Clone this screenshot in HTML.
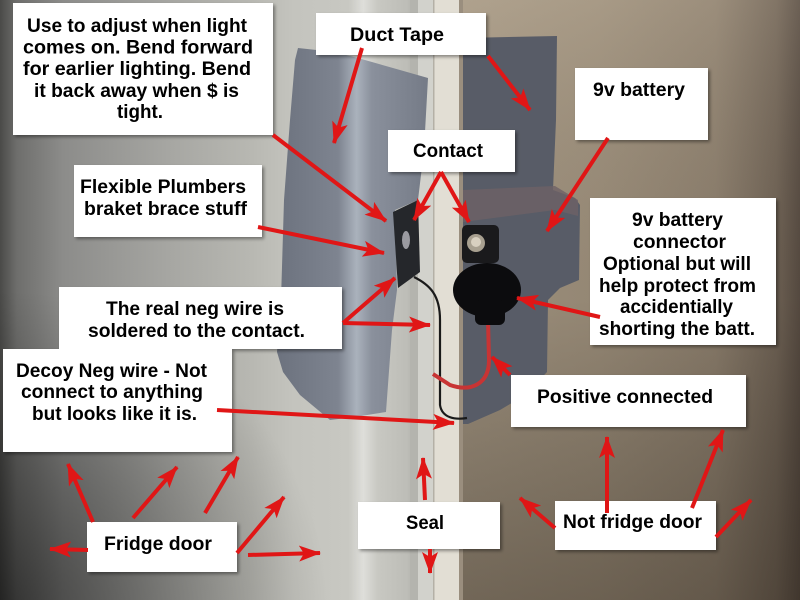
<!DOCTYPE html>
<html><head><meta charset="utf-8"><style>
html,body{margin:0;padding:0;width:800px;height:600px;overflow:hidden;background:#888}
svg{display:block}
text{font-family:"Liberation Sans",Arial,sans-serif;font-weight:bold;font-size:19px;fill:#000}
</style></head><body>
<svg width="800" height="600" viewBox="0 0 800 600" xmlns="http://www.w3.org/2000/svg">
<defs>
<linearGradient id="lg" gradientUnits="userSpaceOnUse" x1="0" y1="0" x2="420" y2="0">
<stop offset="0" stop-color="#4a4a48"/><stop offset="0.04" stop-color="#6e6e6c"/>
<stop offset="0.15" stop-color="#8c8c8a"/><stop offset="0.4" stop-color="#a6a6a2"/>
<stop offset="0.6" stop-color="#b8b8b2"/><stop offset="0.7" stop-color="#c4c4be"/>
<stop offset="0.83" stop-color="#c8c8c2"/><stop offset="0.865" stop-color="#dededa"/>
<stop offset="0.9" stop-color="#c8c8c2"/><stop offset="0.97" stop-color="#bdbdb7"/>
<stop offset="1" stop-color="#a9a9a4"/></linearGradient>
<radialGradient id="bl" gradientUnits="userSpaceOnUse" cx="0" cy="620" r="330">
<stop offset="0" stop-color="#000" stop-opacity="0.55"/><stop offset="1" stop-color="#000" stop-opacity="0"/></radialGradient>
<linearGradient id="rg" gradientUnits="userSpaceOnUse" x1="462" y1="0" x2="800" y2="0">
<stop offset="0" stop-color="#a49682"/><stop offset="0.4" stop-color="#9c8e7a"/>
<stop offset="0.75" stop-color="#8e806e"/><stop offset="0.93" stop-color="#716456"/>
<stop offset="1" stop-color="#584c42"/></linearGradient>
<linearGradient id="rv" gradientUnits="userSpaceOnUse" x1="0" y1="0" x2="0" y2="600">
<stop offset="0" stop-color="#fff4e0" stop-opacity="0.12"/><stop offset="0.5" stop-color="#000" stop-opacity="0.05"/>
<stop offset="1" stop-color="#140e08" stop-opacity="0.35"/></linearGradient>
<linearGradient id="tl" gradientUnits="userSpaceOnUse" x1="277" y1="0" x2="430" y2="0">
<stop offset="0" stop-color="#6c727e"/><stop offset="0.4" stop-color="#7e8490"/>
<stop offset="0.52" stop-color="#aab2bc"/><stop offset="0.62" stop-color="#8a909c"/>
<stop offset="1" stop-color="#747a86"/></linearGradient>
<filter id="sh" x="-10%" y="-10%" width="130%" height="140%"><feDropShadow dx="2" dy="2" stdDeviation="1.5" flood-color="#000" flood-opacity="0.4"/></filter>
<marker id="ah" markerWidth="22" markerHeight="16" refX="21" refY="8" orient="auto" markerUnits="userSpaceOnUse">
<path d="M0,0 L22,8 L0,16 L5,8 z" fill="#e01616"/></marker>
</defs>

<!-- photo background -->
<rect x="0" y="0" width="420" height="600" fill="url(#lg)"/>
<rect x="0" y="0" width="420" height="600" fill="url(#bl)"/>
<rect x="462" y="0" width="338" height="600" fill="url(#rg)"/>
<rect x="462" y="0" width="338" height="600" fill="url(#rv)"/>
<!-- seal -->
<rect x="410" y="0" width="10" height="600" fill="#b4b4ae"/>
<rect x="418" y="0" width="16" height="600" fill="#d2d2cc"/>
<rect x="433" y="0" width="29" height="600" fill="#e2ded4"/>
<rect x="433" y="0" width="1.5" height="600" fill="#b4b0a6"/>
<rect x="459" y="0" width="4" height="600" fill="#9a8e7e"/>

<!-- left duct tape -->
<polygon points="298,48 335,52 365,60 400,70 428,78 424,150 418,200 395,210 397,290 392,330 386,412 355,417 330,420 300,395 283,372 277,352 281,300 284,200 290,120 295,60" fill="url(#tl)"/>
<!-- right duct tape -->
<polygon points="463,38 557,36 556,120 553,190 575,198 580,205 579,280 560,288 548,300 547,372 525,395 500,410 468,424 463,424" fill="#585c67"/>
<polygon points="463,190 555,186 578,200 578,216 555,210 463,222" fill="#6e6266" opacity="0.8"/>

<!-- plumbers bracket -->
<polygon points="393,212 418,200 420,272 398,288" fill="#25272b"/>
<ellipse cx="406" cy="240" rx="4" ry="9" fill="#9a9aa0"/>
<!-- wires -->
<path d="M414,277 C430,285 440,295 440,320 L440,405 C442,418 455,420 467,418" stroke="#1a1a1a" stroke-width="2.2" fill="none"/>
<path d="M488,320 L489,360 C489,385 470,392 450,385 L433,374" stroke="#c83434" stroke-width="4" fill="none"/>
<!-- battery connector -->
<rect x="462" y="225" width="37" height="38" rx="5" fill="#1a1a1c"/>
<circle cx="476" cy="243" r="9" fill="#a8a090"/>
<circle cx="476" cy="242" r="5" fill="#d8d0c0"/>
<ellipse cx="487" cy="290" rx="34" ry="27" fill="#0c0c0e"/>
<rect x="475" y="300" width="30" height="25" rx="6" fill="#0c0c0e"/>

<!-- label boxes -->
<g fill="#fff" filter="url(#sh)">
<rect x="13" y="3" width="260" height="132"/>
<rect x="316" y="13" width="170" height="42"/>
<rect x="575" y="68" width="133" height="72"/>
<rect x="388" y="130" width="127" height="42"/>
<rect x="74" y="165" width="188" height="72"/>
<rect x="590" y="198" width="186" height="147"/>
<rect x="59" y="287" width="283" height="62"/>
<rect x="3" y="349" width="229" height="103"/>
<rect x="511" y="375" width="235" height="52"/>
<rect x="87" y="522" width="150" height="50"/>
<rect x="358" y="502" width="142" height="47"/>
<rect x="555" y="501" width="161" height="49"/>
</g>

<g text-anchor="middle">
<text x="137" y="32" textLength="220" lengthAdjust="spacingAndGlyphs">Use to adjust when light</text>
<text x="138" y="53.5" textLength="230" lengthAdjust="spacingAndGlyphs">comes on.  Bend forward</text>
<text x="137" y="75" textLength="228" lengthAdjust="spacingAndGlyphs">for earlier lighting.  Bend</text>
<text x="136.5" y="97" textLength="205" lengthAdjust="spacingAndGlyphs">it back away when $ is</text>
<text x="140" y="118" textLength="46" lengthAdjust="spacingAndGlyphs">tight.</text>

<text x="397" y="41" textLength="94" lengthAdjust="spacingAndGlyphs">Duct Tape</text>
<text x="639" y="96" textLength="92" lengthAdjust="spacingAndGlyphs">9v battery</text>
<text x="448" y="157" textLength="70" lengthAdjust="spacingAndGlyphs">Contact</text>

<text x="163" y="193" textLength="166" lengthAdjust="spacingAndGlyphs">Flexible Plumbers</text>
<text x="165.5" y="215" textLength="163" lengthAdjust="spacingAndGlyphs">braket brace stuff</text>

<text x="677.5" y="226" textLength="91" lengthAdjust="spacingAndGlyphs">9v battery</text>
<text x="679.5" y="248" textLength="93" lengthAdjust="spacingAndGlyphs">connector</text>
<text x="677" y="270" textLength="148" lengthAdjust="spacingAndGlyphs">Optional but will</text>
<text x="677.5" y="292" textLength="157" lengthAdjust="spacingAndGlyphs">help protect from</text>
<text x="676.5" y="313" textLength="113" lengthAdjust="spacingAndGlyphs">accidentially</text>
<text x="677" y="335" textLength="156" lengthAdjust="spacingAndGlyphs">shorting the batt.</text>

<text x="195" y="315" textLength="178" lengthAdjust="spacingAndGlyphs">The real neg wire is</text>
<text x="196.5" y="337" textLength="217" lengthAdjust="spacingAndGlyphs">soldered to the contact.</text>

<text x="111.5" y="377" textLength="191" lengthAdjust="spacingAndGlyphs">Decoy Neg wire - Not</text>
<text x="112" y="398" textLength="182" lengthAdjust="spacingAndGlyphs">connect to anything</text>
<text x="114.5" y="420" textLength="165" lengthAdjust="spacingAndGlyphs">but looks like it is.</text>

<text x="625" y="403" textLength="176" lengthAdjust="spacingAndGlyphs">Positive connected</text>
<text x="158" y="550" textLength="108" lengthAdjust="spacingAndGlyphs">Fridge door</text>
<text x="425" y="529" textLength="38" lengthAdjust="spacingAndGlyphs">Seal</text>
<text x="632.5" y="528" textLength="139" lengthAdjust="spacingAndGlyphs">Not fridge door</text>
</g>

<!-- arrows -->
<g stroke="#e01616" stroke-width="4" fill="none" marker-end="url(#ah)">
<line x1="273" y1="135" x2="386" y2="221"/>
<line x1="362" y1="48" x2="334" y2="143"/>
<line x1="488" y1="56" x2="530" y2="110"/>
<line x1="258" y1="227" x2="384" y2="253"/>
<line x1="441" y1="172" x2="414" y2="220"/>
<line x1="441" y1="172" x2="469" y2="222"/>
<line x1="608" y1="138" x2="547" y2="231"/>
<line x1="600" y1="317" x2="517" y2="298"/>
<line x1="343" y1="323" x2="395" y2="278"/>
<line x1="343" y1="323" x2="430" y2="325"/>
<line x1="217" y1="410" x2="454" y2="423"/>
<line x1="510" y1="375" x2="492" y2="357"/>
<line x1="93" y1="522" x2="68" y2="464"/>
<line x1="133" y1="518" x2="177" y2="467"/>
<line x1="205" y1="513" x2="238" y2="457"/>
<line x1="237" y1="553" x2="284" y2="497"/>
<line x1="88" y1="550" x2="50" y2="549"/>
<line x1="248" y1="555" x2="320" y2="553"/>
<line x1="425" y1="500" x2="423" y2="458"/>
<line x1="430" y1="549" x2="430" y2="573"/>
<line x1="607" y1="513" x2="607" y2="437"/>
<line x1="692" y1="508" x2="723" y2="430"/>
<line x1="555" y1="528" x2="520" y2="498"/>
<line x1="716" y1="537" x2="751" y2="500"/>
</g>
</svg>
</body></html>
